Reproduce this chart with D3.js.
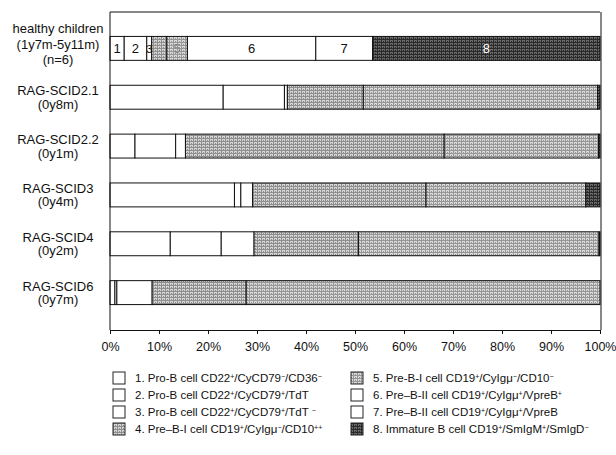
<!DOCTYPE html>
<html>
<head>
<meta charset="utf-8">
<script src="https://cdn.jsdelivr.net/npm/d3@7"></script>
<style>
  body { margin: 0; background: #fff; }
  text { font-family: "Liberation Sans", Arial, Helvetica, sans-serif; fill: #111; }
</style>
</head>
<body>
<div id="chart"></div>
<script>
// row labels (each entry is the lines of one label)
const groups = ["healthy", "RAG-SCID2.1", "RAG-SCID2.2", "RAG-SCID3", "RAG-SCID4", "RAG-SCID6"];
const groupLabels = [
  ["healthy children", "(1y7m-5y11m)", "(n=6)"],
  ["RAG-SCID2.1", "(0y8m)"],
  ["RAG-SCID2.2", "(0y1m)"],
  ["RAG-SCID3", "(0y4m)"],
  ["RAG-SCID4", "(0y2m)"],
  ["RAG-SCID6", "(0y7m)"]
];

// percent of B-lineage cells in each stage 1..8, per row
const stage1 = [2.9, 23.1, 5.1, 25.4, 12.3, 1.0];
const stage2 = [4.6, 12.5, 8.3, 1.3, 10.4, 0.4];
const stage3 = [1.0, 0.6, 2.0, 2.4, 6.7, 7.2];
const stage4 = [3.1, 15.5, 52.8, 35.4, 21.3, 19.2];
const stage5 = [4.2, 47.8, 31.5, 32.6, 49.1, 72.2];
const stage6 = [26.2, 0, 0, 0, 0, 0];
const stage7 = [11.6, 0, 0, 0, 0, 0];
const stage8 = [46.4, 0.5, 0.3, 2.9, 0.2, 0];
const stages = [stage1, stage2, stage3, stage4, stage5, stage6, stage7, stage8];

const tickValues = [0, 10, 20, 30, 40, 50, 60, 70, 80, 90, 100];

// legend, [text, superscript] pieces
const legendItems = [
  [["1. Pro-B cell CD22", ""], ["+", "s"], ["/CyCD79", ""], ["\u2212", "s"], ["/CD36", ""], ["\u2212", "s"]],
  [["2. Pro-B cell CD22", ""], ["+", "s"], ["/CyCD79", ""], ["+", "s"], ["/TdT", ""]],
  [["3. Pro-B cell CD22", ""], ["+", "s"], ["/CyCD79", ""], ["+", "s"], ["/TdT ", ""], ["\u2212", "s"]],
  [["4. Pre\u2013B-I cell CD19", ""], ["+", "s"], ["/CyIg\u03bc", ""], ["\u2212", "s"], ["/CD10", ""], ["++", "s"]],
  [["5. Pre-B-I cell CD19", ""], ["+", "s"], ["/CyIg\u03bc", ""], ["\u2212", "s"], ["/CD10", ""], ["\u2212", "s"]],
  [["6. Pre\u2013B-II cell CD19", ""], ["+", "s"], ["/CyIg\u03bc", ""], ["+", "s"], ["/VpreB", ""], ["+", "s"]],
  [["7. Pre\u2013B-II cell CD19", ""], ["+", "s"], ["/CyIg\u03bc", ""], ["+", "s"], ["/VpreB", ""]],
  [["8. Immature B cell CD19", ""], ["+", "s"], ["/SmIgM", ""], ["+", "s"], ["/SmIgD", ""], ["\u2212", "s"]]
];

const width = 616, height = 455;
const margin = {top: 12, right: 16, bottom: 125, left: 110};

const svg = d3.select("#chart").append("svg")
  .attr("width", width)
  .attr("height", height);

// halftone-ish fills
const defs = svg.append("defs");
function halftone(id, bg, fg) {
  const p = defs.append("pattern")
    .attr("id", id)
    .attr("width", 4).attr("height", 3)
    .attr("patternUnits", "userSpaceOnUse");
  p.append("rect").attr("width", 4).attr("height", 3).attr("fill", bg);
  p.append("rect").attr("x", 0).attr("y", 0).attr("width", 4).attr("height", 1).attr("fill", fg);
  p.append("rect").attr("x", 1).attr("y", 1).attr("width", 1).attr("height", 2).attr("fill", fg);
  p.append("rect").attr("x", 3).attr("y", 2).attr("width", 1).attr("height", 1).attr("fill", fg);
}
halftone("p4", "#d6d6d6", "#8e8e8e");
halftone("p5", "#dadada", "#979797");
halftone("p8", "#6a6a6a", "#2a2a2a");

const fills = ["#fff", "#fff", "#fff", "url(#p4)", "url(#p5)", "#fff", "#fff", "url(#p8)"];

const x = d3.scaleLinear()
  .domain([0, 100])
  .range([margin.left, width - margin.right]);

const y = d3.scaleBand()
  .domain(groups)
  .range([margin.top, height - margin.bottom - 1])
  .paddingInner(0.51)
  .paddingOuter(0.5);

// stack the stages for each row
const rows = groups.map((g, i) => {
  let acc = 0;
  return stages.map((s, k) => {
    const seg = {group: g, stage: k + 1, x0: acc, x1: acc + s[i]};
    acc += s[i];
    return seg;
  }).filter(d => d.x1 > d.x0);
});

const bars = svg.append("g");
bars.selectAll("rect")
  .data(rows.flat())
  .join("rect")
  .attr("x", d => x(d.x0))
  .attr("y", d => y(d.group))
  .attr("width", d => x(d.x1) - x(d.x0))
  .attr("height", y.bandwidth())
  .attr("fill", d => fills[d.stage - 1])
  .attr("stroke", "#111")
  .attr("stroke-width", 1);

// stage numbers on the healthy bar
bars.selectAll("text")
  .data(rows[0].filter(d => d.stage !== 4))
  .join("text")
  .attr("x", d => x((d.x0 + d.x1) / 2))
  .attr("y", y("healthy") + y.bandwidth() / 2 + 5)
  .attr("text-anchor", "middle")
  .style("font-size", d => d.stage === 3 ? "11px" : "13px")
  .style("fill", d => d.stage === 8 ? "#fff" : d.stage === 5 ? "#888" : "#111")
  .text(d => d.stage);

// frame
const frame = svg.append("g").attr("fill", "none").attr("stroke", "#111");
frame.append("line")
  .attr("x1", x(0)).attr("x2", x(100))
  .attr("y1", margin.top).attr("y2", margin.top);
frame.append("line")
  .attr("x1", x(100) + 1).attr("x2", x(100) + 1)
  .attr("y1", margin.top).attr("y2", height - margin.bottom);
frame.append("line")
  .attr("x1", x(0)).attr("x2", x(0))
  .attr("y1", margin.top).attr("y2", height - margin.bottom);

// x axis
const xAxis = svg.append("g")
  .attr("transform", `translate(0,${height - margin.bottom})`)
  .call(d3.axisBottom(x).tickValues(tickValues).tickSize(4).tickSizeOuter(0).tickPadding(8)
    .tickFormat(d => d + "%"));
xAxis.select(".domain").attr("stroke", "#111");
xAxis.selectAll(".tick line").attr("stroke", "#111");
xAxis.selectAll("text")
  .style("font-size", "12.5px")
  .style("font-family", "Liberation Sans, Arial, sans-serif")
  .attr("fill", "#111");

// row labels
const labels = svg.append("g");
groupLabels.forEach((lines, i) => {
  const top = y(groups[i]);
  const startY = lines.length === 3 ? top - 3 : top + 10;
  const step = lines.length === 3 ? 15.5 : 13.5;
  lines.forEach((t, j) => {
    labels.append("text")
      .attr("x", 58)
      .attr("y", startY + j * step)
      .attr("text-anchor", "middle")
      .style("font-size", "13px")
      .text(t);
  });
});

// legend
const legend = svg.append("g");
legendItems.forEach((parts, i) => {
  const col = Math.floor(i / 4), row = i % 4;
  const lx = col === 0 ? 113 : 351;
  const ly = 372 + row * 17;
  legend.append("rect")
    .attr("x", lx).attr("y", ly)
    .attr("width", 12).attr("height", 12)
    .attr("fill", fills[i])
    .attr("stroke", "#222")
    .attr("stroke-width", 1);
  const t = legend.append("text")
    .attr("x", lx + 22)
    .attr("y", ly + 10)
    .style("font-size", "11.5px");
  parts.forEach(p => {
    const s = t.append("tspan").text(p[0]);
    if (p[1] === "s") s.attr("baseline-shift", "super").style("font-size", "7px");
  });
});
</script>
</body>
</html>
